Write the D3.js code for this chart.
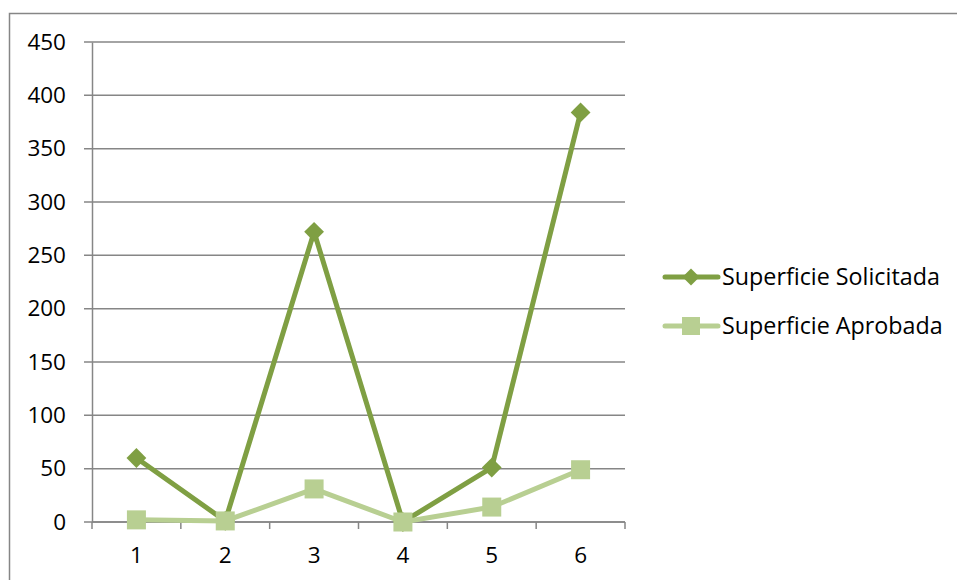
<!DOCTYPE html>
<html>
<head>
<meta charset="utf-8">
<script src="https://cdn.jsdelivr.net/npm/d3@7"></script>
<style>
  body { margin: 0; background: #fff; }
  text { font-family: "Open Sans", "Noto Sans", sans-serif; fill: #000; }
</style>
</head>
<body>
<svg id="chart" width="957" height="580"></svg>
<script>
const categories = ['1', '2', '3', '4', '5', '6']
const solicitada = [60, 1, 272, 0, 51, 384]
const aprobada = [2, 1, 31, 0, 14, 49]
const yTicks = [0, 50, 100, 150, 200, 250, 300, 350, 400, 450]

const DARK = '#7f9f43'
const LIGHT = '#b8cf92'
const GRID = '#868686'

const svg = d3.select('svg#chart')

// outer frame (right and bottom run off the page)
svg.append('rect')
  .attr('x', 9.5)
  .attr('y', 13.5)
  .attr('width', 1000)
  .attr('height', 1000)
  .attr('fill', 'none')
  .attr('stroke', GRID)
  .attr('stroke-width', 1.5)

const xScale = d3.scaleBand()
  .domain(categories)
  .range([92, 625])

const yScale = d3.scaleLinear()
  .domain([0, 450])
  .range([522, 42])

// gridlines
svg.append('g')
  .selectAll('line')
  .data(yTicks)
  .enter()
  .append('line')
  .attr('x1', 84)
  .attr('x2', 625)
  .attr('y1', d => yScale(d))
  .attr('y2', d => yScale(d))
  .attr('stroke', GRID)
  .attr('stroke-width', 1.5)

const yAxis = svg.append('g')
  .attr('transform', 'translate(92,0)')
  .call(d3.axisLeft(yScale).tickValues(yTicks).tickSize(0).tickPadding(26))
yAxis.select('.domain').attr('stroke', GRID).attr('stroke-width', 1.5)
yAxis.selectAll('text')
  .style('font-size', '22.5px')
  .attr('fill', '#000')

const xAxis = svg.append('g')
  .attr('transform', 'translate(0,522)')
  .call(d3.axisBottom(xScale).tickSize(0).tickPadding(25))
xAxis.select('.domain').remove()
xAxis.selectAll('text')
  .style('font-size', '22.5px')
  .attr('fill', '#000')

// x tick marks at band edges
svg.append('g')
  .selectAll('line')
  .data(categories.concat(['end']))
  .enter()
  .append('line')
  .attr('x1', (d, i) => xScale.range()[0] + i * xScale.bandwidth())
  .attr('x2', (d, i) => xScale.range()[0] + i * xScale.bandwidth())
  .attr('y1', 522)
  .attr('y2', 529)
  .attr('stroke', GRID)
  .attr('stroke-width', 1.5)
svg.append('line')
  .attr('x1', 92).attr('x2', 625)
  .attr('y1', 522).attr('y2', 522)
  .attr('stroke', GRID)
  .attr('stroke-width', 1.5)

const cx = (d, i) => xScale(categories[i]) + xScale.bandwidth() / 2
const line = d3.line().x(cx).y(d => yScale(d))

svg.append('path')
  .datum(solicitada)
  .attr('d', line)
  .attr('fill', 'none')
  .attr('stroke', DARK)
  .attr('stroke-width', 5)
  .attr('stroke-linejoin', 'round')

svg.append('g')
  .selectAll('path')
  .data(solicitada)
  .enter()
  .append('path')
  .attr('d', d3.symbol().type(d3.symbolSquare).size(196))
  .attr('transform', (d, i) => `translate(${cx(d, i)},${yScale(d)}) rotate(45)`)
  .attr('fill', DARK)

svg.append('path')
  .datum(aprobada)
  .attr('d', line)
  .attr('fill', 'none')
  .attr('stroke', LIGHT)
  .attr('stroke-width', 5)
  .attr('stroke-linejoin', 'round')

svg.append('g')
  .selectAll('rect')
  .data(aprobada)
  .enter()
  .append('rect')
  .attr('x', (d, i) => cx(d, i) - 9.5)
  .attr('y', d => yScale(d) - 9.5)
  .attr('width', 19)
  .attr('height', 19)
  .attr('fill', LIGHT)

// legend
const legend = [
  { name: 'Superficie Solicitada', color: DARK, mark: 'diamond' },
  { name: 'Superficie Aprobada', color: LIGHT, mark: 'square' }
]
const lg = svg.append('g')
legend.forEach((s, i) => {
  const y = 277 + i * 49
  lg.append('line')
    .attr('x1', 665).attr('x2', 718)
    .attr('y1', y).attr('y2', y)
    .attr('stroke', s.color)
    .attr('stroke-width', 5)
    .attr('stroke-linecap', 'round')
  if (s.mark === 'diamond') {
    lg.append('path')
      .attr('d', d3.symbol().type(d3.symbolSquare).size(144))
      .attr('transform', `translate(691,${y}) rotate(45)`)
      .attr('fill', s.color)
  } else {
    lg.append('rect')
      .attr('x', 682).attr('y', y - 9)
      .attr('width', 18).attr('height', 18)
      .attr('fill', s.color)
  }
  lg.append('text')
    .attr('x', 722)
    .attr('y', y + 8)
    .style('font-size', '23.3px')
    .text(s.name)
})
</script>
</body>
</html>
